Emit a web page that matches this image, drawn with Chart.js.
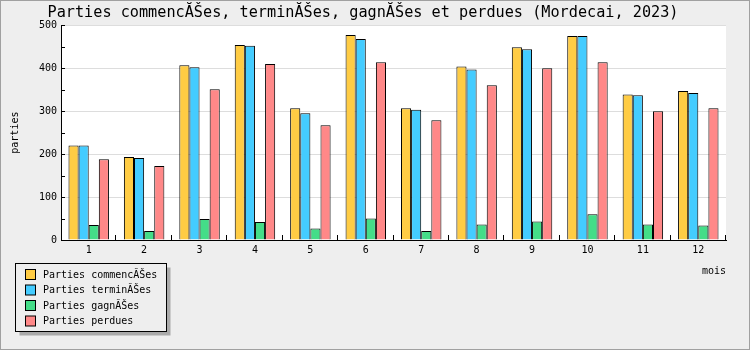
<!DOCTYPE html>
<html>
<head>
<meta charset="utf-8">
<script src="https://cdn.jsdelivr.net/npm/chart.js@4/dist/chart.umd.min.js"></script>
<style>
	html, body { margin: 0; padding: 0; background: #eeeeee; }
	#wrap { width: 750px; height: 350px; }
</style>
</head>
<body>
<div id="wrap"><canvas id="chart" width="750" height="350"></canvas></div>
<script>
// données du graphique
const mois = ['1', '2', '3', '4', '5', '6', '7', '8', '9', '10', '11', '12'];
const commencees = [220, 193, 407, 454, 307, 477, 307, 404, 449, 475, 339, 347];
const terminees = [220, 191, 402, 452, 295, 468, 303, 397, 444, 475, 337, 342];
const gagnees = [35, 21, 49, 42, 27, 50, 21, 36, 43, 60, 36, 34];
const perdues = [188, 172, 351, 410, 267, 414, 279, 360, 400, 414, 300, 307];
const yTicks = [0, 100, 200, 300, 400, 500];

const police = 'DejaVu Sans Mono';

// fond, cadre, graduations internes et légende
const decor = {
	id: 'decor',
	beforeDraw(chart) {
		const { ctx, chartArea: a } = chart;
		ctx.save();
		ctx.fillStyle = '#eeeeee';
		ctx.fillRect(0, 0, chart.width, chart.height);
		ctx.fillStyle = '#ffffff';
		ctx.fillRect(a.left, a.top, a.right - a.left, a.bottom - a.top);
		ctx.strokeStyle = '#a0a0a0';
		ctx.lineWidth = 2;
		ctx.strokeRect(0, 0, chart.width, chart.height);
		ctx.restore();
	},
	afterDraw(chart) {
		const { ctx, chartArea: a, scales } = chart;
		ctx.save();
		ctx.strokeStyle = '#000';
		ctx.lineWidth = 1;
		ctx.beginPath();
		for (let v = 0; v <= 500; v += 50) {
			const y = Math.round(scales.y.getPixelForValue(v)) + 0.5;
			ctx.moveTo(a.left, y);
			ctx.lineTo(a.left + 4, y);
		}
		const n = mois.length;
		for (let i = 1; i <= n; i++) {
			const x = Math.round(a.left + (a.right - a.left) * i / n) - 0.5;
			ctx.moveTo(x, a.bottom);
			ctx.lineTo(x, a.bottom - 5);
		}
		ctx.stroke();

		// légende
		const bx = 15.5, by = 263.5, bw = 151, bh = 68;
		ctx.fillStyle = '#aaaaaa';
		ctx.fillRect(bx + 4, by + 4, bw, bh);
		ctx.fillStyle = '#eeeeee';
		ctx.fillRect(bx, by, bw, bh);
		ctx.strokeRect(bx, by, bw, bh);
		ctx.font = '10px "' + police + '"';
		ctx.textBaseline = 'middle';
		chart.data.datasets.forEach((ds, i) => {
			const y = 269.5 + i * 15.5;
			ctx.fillStyle = ds.backgroundColor;
			ctx.fillRect(25.5, y, 10, 10);
			ctx.strokeRect(25.5, y, 10, 10);
			ctx.fillStyle = '#000';
			ctx.fillText(ds.label, 43, y + 5.5);
		});
		ctx.restore();
	}
};

function serie(label, data, couleur) {
	return {
		label: label,
		data: data,
		backgroundColor: couleur,
		borderColor: '#000',
		borderWidth: 1,
		categoryPercentage: 0.73,
		barPercentage: 1.0,
	};
}

new Chart(document.getElementById('chart'), {
	type: 'bar',
	data: {
		labels: mois,
		datasets: [
			serie('Parties commencĂŠes', commencees, '#ffcc44'),
			serie('Parties terminĂŠes', terminees, '#44ccff'),
			serie('Parties gagnĂŠes', gagnees, '#44dd88'),
			serie('Parties perdues', perdues, '#ff8888'),
		]
	},
	options: {
		responsive: false,
		animation: false,
		layout: { padding: { top: 0, right: 24, bottom: 73, left: 0 } },
		plugins: {
			legend: { display: false },
			tooltip: { enabled: false },
			title: {
				display: true,
				text: 'Parties commencĂŠes, terminĂŠes, gagnĂŠes et perdues (Mordecai, 2023)',
				color: '#000',
				font: { family: police, size: 15.2, weight: 'normal', lineHeight: 1.2 },
				padding: { top: 4, bottom: 3 },
			}
		},
		scales: {
			x: {
				grid: { display: false, drawTicks: false },
				border: { display: true, color: '#000', width: 1 },
				ticks: { color: '#000', padding: 4, font: { family: police, size: 10 } },
				title: {
					display: true, text: 'mois', align: 'end', color: '#000',
					font: { family: police, size: 10 }, padding: { top: 0, bottom: 0 }
				},
				afterFit(s) { s.height = 37; }
			},
			y: {
				min: 0,
				max: 500,
				afterBuildTicks(s) { s.ticks = yTicks.map(v => ({ value: v })); },
				grid: { color: '#dddddd', drawTicks: false },
				border: { display: true, color: '#000', width: 1 },
				ticks: { color: '#000', padding: 4, font: { family: police, size: 10 } },
				title: {
					display: true, text: 'parties', color: '#000',
					font: { family: police, size: 10 }, padding: { top: 9, bottom: 0 }
				},
				afterFit(s) { s.width = 61; }
			}
		}
	},
	plugins: [decor]
});
</script>
</body>
</html>
